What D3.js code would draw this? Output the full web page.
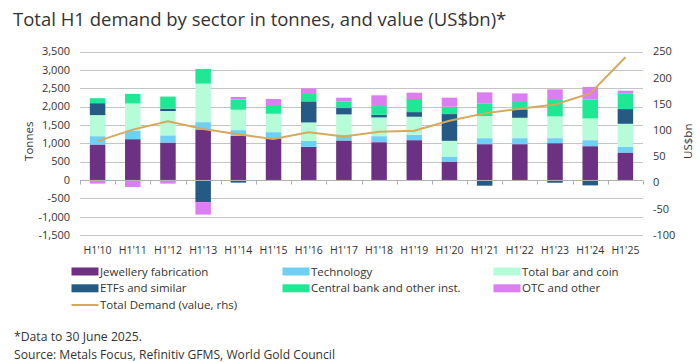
<!DOCTYPE html>
<html>
<head>
<meta charset="utf-8">
<script src="https://cdn.jsdelivr.net/npm/d3@7"></script>
<style>
  body { margin: 0; background: #fff; }
  svg { display: block; font-family: "Open Sans", sans-serif; }
</style>
</head>
<body>
<svg width="700" height="362"></svg>
<script>
const categories = ["H1'10", "H1'11", "H1'12", "H1'13", "H1'14", "H1'15", "H1'16", "H1'17",
    "H1'18", "H1'19", "H1'20", "H1'21", "H1'22", "H1'23", "H1'24", "H1'25"];

// tonnes
const jewellery = [966, 1111, 1020, 1376, 1203, 1130, 902, 1075, 1029, 1084, 501, 975, 975, 1002, 920, 747];
const technology = [227, 237, 195, 200, 155, 173, 164, 146, 164, 146, 137, 164, 164, 137, 164, 155];
const barCoin = [574, 735, 664, 1048, 556, 501, 501, 565, 511, 492, 428, 601, 555, 592, 592, 628];
const etfs = [325, 0, 65, -604, -73, 0, 574, 173, 72, 127, 729, -156, 228, -76, -148, 401];
const centralBank = [136, 262, 328, 401, 273, 237, 200, 173, 237, 356, 200, 337, 228, 446, 510, 419];
const otc = [-100, -191, -100, -340, 73, 164, 155, 109, 292, 173, 246, 310, 209, 292, 347, 82];

// US$bn, rhs
const totalValue = [79, 101, 117, 102, 92, 83, 96, 88, 97, 99, 118, 132, 141, 149, 170, 239];

const leftTicks = [3500, 3000, 2500, 2000, 1500, 1000, 500, 0, -500, -1000, -1500];
const rightTicks = [250, 200, 150, 100, 50, 0, -50, -100];

const seriesInfo = [
    { key: "jewellery", label: "Jewellery fabrication", color: "#6c3183", values: jewellery },
    { key: "technology", label: "Technology", color: "#6fd0f6", values: technology },
    { key: "barCoin", label: "Total bar and coin", color: "#b6fcd8", values: barCoin },
    { key: "etfs", label: "ETFs and similar", color: "#255a85", values: etfs },
    { key: "centralBank", label: "Central bank and other inst.", color: "#1ee894", values: centralBank },
    { key: "otc", label: "OTC and other", color: "#da7ef2", values: otc }
];
const lineColor = "#d6a95c";

const table = categories.map((c, i) => {
    const row = { cat: c };
    seriesInfo.forEach(s => { row[s.key] = s.values[i]; });
    return row;
});

const svg = d3.select("svg");
const plot = { left: 80, right: 643, top: 51.5, bottom: 235 };

const x = d3.scaleBand().domain(categories).range([plot.left, plot.right]);
const y = d3.scaleLinear().domain([-1500, 3500]).range([plot.bottom, plot.top]);
const yR = d3.scaleLinear().domain([-100, 250]).range([plot.bottom, plot.top]);

// title
svg.append("text")
    .attr("x", 13).attr("y", 26)
    .attr("font-size", 18.5)
    .attr("fill", "#333")
    .text("Total H1 demand by sector in tonnes, and value (US$bn)*");

// gridlines
svg.append("g").selectAll("line")
    .data(leftTicks.filter(d => d !== 0))
    .join("line")
    .attr("x1", plot.left).attr("x2", plot.right)
    .attr("y1", d => Math.round(y(d)) + 0.5).attr("y2", d => Math.round(y(d)) + 0.5)
    .attr("stroke", "#c4c4c4").attr("stroke-width", 1);

// left axis labels
svg.append("g").selectAll("text")
    .data(leftTicks)
    .join("text")
    .attr("x", 70).attr("y", d => y(d))
    .attr("dy", "0.35em")
    .attr("text-anchor", "end")
    .attr("font-size", 11).attr("fill", "#333")
    .text(d => d3.format(",")(d).replace("−", "-"));

// right axis labels
svg.append("g").selectAll("text")
    .data(rightTicks)
    .join("text")
    .attr("x", 653).attr("y", d => yR(d))
    .attr("dy", "0.35em")
    .attr("font-size", 11).attr("fill", "#333")
    .text(d => String(d));

svg.append("text")
    .attr("transform", `translate(33,${(plot.top + plot.bottom) / 2 - 2}) rotate(-90)`)
    .attr("text-anchor", "middle")
    .attr("font-size", 11.5).attr("fill", "#333")
    .text("Tonnes");

svg.append("text")
    .attr("transform", `translate(692,${(plot.top + plot.bottom) / 2 - 2}) rotate(-90)`)
    .attr("text-anchor", "middle")
    .attr("font-size", 11.5).attr("fill", "#333")
    .text("US$bn");

// stacked bars
const stack = d3.stack()
    .keys(seriesInfo.map(s => s.key))
    .offset(d3.stackOffsetDiverging);
const stacked = stack(table);
const barW = 15.5;

svg.append("g").selectAll("g")
    .data(stacked)
    .join("g")
    .attr("fill", (d, i) => seriesInfo[i].color)
    .selectAll("rect")
    .data(d => d)
    .join("rect")
    .attr("x", d => x(d.data.cat) + x.bandwidth() / 2 - barW / 2)
    .attr("y", d => y(Math.max(d[0], d[1])))
    .attr("width", barW)
    .attr("height", d => Math.abs(y(d[0]) - y(d[1])));

// zero axis line with ticks
const zeroY = Math.round(y(0)) + 0.5;
svg.append("line")
    .attr("x1", plot.left).attr("x2", plot.right)
    .attr("y1", zeroY).attr("y2", zeroY)
    .attr("stroke", "#b0b0b0");
svg.append("g").selectAll("line")
    .data(categories.map(c => x(c)).concat([plot.right]))
    .join("line")
    .attr("x1", d => Math.round(d) + 0.5).attr("x2", d => Math.round(d) + 0.5)
    .attr("y1", zeroY).attr("y2", zeroY + 4)
    .attr("stroke", "#b0b0b0");

// total demand line
const line = d3.line()
    .x((d, i) => x(categories[i]) + x.bandwidth() / 2)
    .y(d => yR(d));
svg.append("path")
    .datum(totalValue)
    .attr("d", line)
    .attr("fill", "none")
    .attr("stroke", lineColor)
    .attr("stroke-width", 2);

// x labels
svg.append("g").selectAll("text")
    .data(categories)
    .join("text")
    .attr("x", d => x(d) + x.bandwidth() / 2)
    .attr("y", 250)
    .attr("dy", "0.35em")
    .attr("text-anchor", "middle")
    .attr("font-size", 10.5).attr("fill", "#333")
    .text(d => d);

// legend
const legendCols = [71.5, 282.5, 493.5];
const legendRows = [271.5, 288.3, 305];
const legend = svg.append("g");
seriesInfo.forEach((s, i) => {
    const lx = legendCols[i % 3];
    const ly = legendRows[Math.floor(i / 3)];
    legend.append("rect")
        .attr("x", lx).attr("y", ly - 4)
        .attr("width", 27).attr("height", 8)
        .attr("fill", s.color);
    legend.append("text")
        .attr("x", lx + 28.5).attr("y", ly)
        .attr("dy", "0.35em")
        .attr("font-size", 11.5).attr("fill", "#333")
        .text(s.label);
});
legend.append("line")
    .attr("x1", legendCols[0]).attr("x2", legendCols[0] + 27)
    .attr("y1", legendRows[2]).attr("y2", legendRows[2])
    .attr("stroke", lineColor).attr("stroke-width", 2);
legend.append("text")
    .attr("x", legendCols[0] + 28.5).attr("y", legendRows[2])
    .attr("dy", "0.35em")
    .attr("font-size", 11.5).attr("fill", "#333")
    .text("Total Demand (value, rhs)");

// footnotes
svg.append("text")
    .attr("x", 14).attr("y", 341)
    .attr("font-size", 13).attr("fill", "#333")
    .attr("textLength", 128).attr("lengthAdjust", "spacingAndGlyphs")
    .text("*Data to 30 June 2025.");
svg.append("text")
    .attr("x", 14).attr("y", 358.5)
    .attr("font-size", 13).attr("fill", "#333")
    .attr("textLength", 321).attr("lengthAdjust", "spacingAndGlyphs")
    .text("Source: Metals Focus, Refinitiv GFMS, World Gold Council");
</script>
</body>
</html>
